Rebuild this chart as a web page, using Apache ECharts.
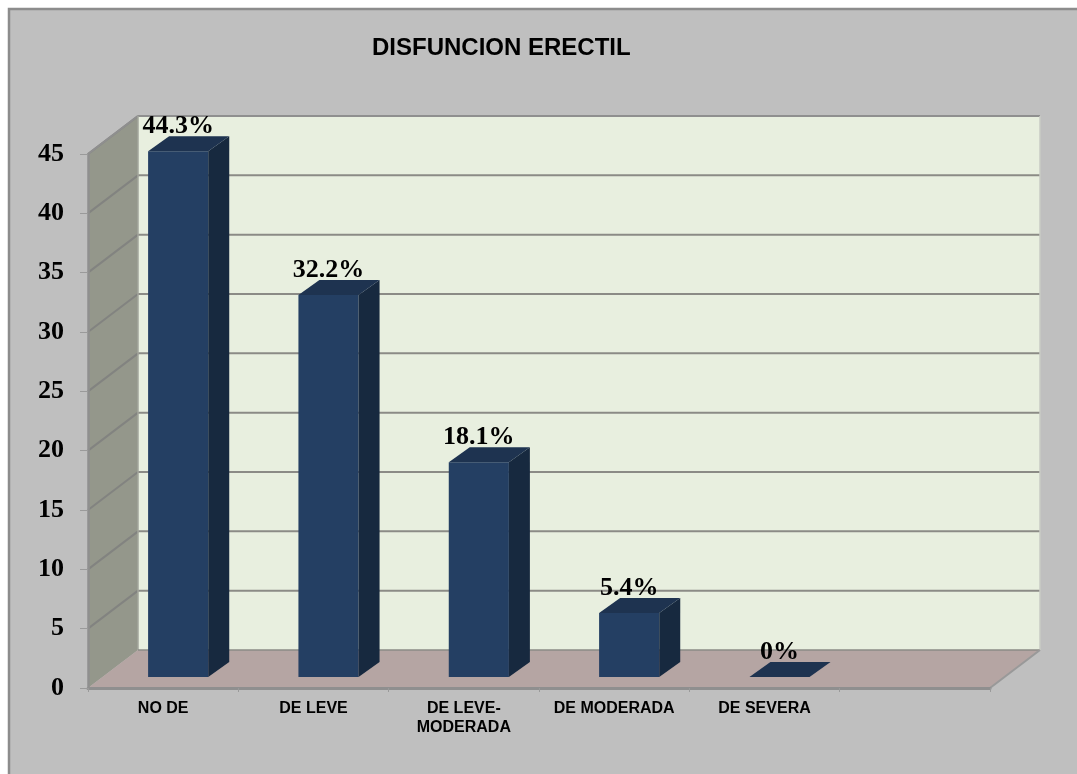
<!DOCTYPE html>
<html>
<head>
<meta charset="utf-8">
<style>html,body{margin:0;padding:0;background:#fff}#c{width:1077px;height:774px}</style>
<script src="https://cdn.jsdelivr.net/npm/echarts@6/dist/echarts.min.js"></script>
</head>
<body>
<div id="c"></div>
<script>
const titleText = 'DISFUNCION ERECTIL';
const categories = ['NO DE', 'DE LEVE', 'DE LEVE-\nMODERADA', 'DE MODERADA', 'DE SEVERA', ''];
const values = [44.3, 32.2, 18.1, 5.4, 0];
const yTicks = [0, 5, 10, 15, 20, 25, 30, 35, 40, 45];

const WALL_DX = 50, WALL_DY = -38;
const BAR_DX = 15, BAR_DY = -11, DEPTH_DX = 21, DEPTH_DY = -15;
const SERIF = '"Liberation Serif","Times New Roman",serif';
const SANS = '"Liberation Sans",Arial,sans-serif';
const GRID = '#8b8b86';

function poly(points, fill, stroke, lw) {
  return { type: 'polygon', shape: { points }, style: { fill, stroke: stroke || null, lineWidth: lw || 0 } };
}
function seg(a, b, color, w) {
  return { type: 'line', shape: { x1: a[0], y1: a[1], x2: b[0], y2: b[1] }, style: { stroke: color, lineWidth: w, fill: null } };
}

function renderWalls(params, api) {
  const g = params.coordSys;
  const L = g.x, R = g.x + g.width, T = g.y, B = g.y + g.height;
  const dx = WALL_DX, dy = WALL_DY;
  const ch = [
    poly([[L + dx, T + dy], [R + dx, T + dy], [R + dx, B + dy], [L + dx, B + dy]], '#e8efdf'),
    poly([[L, T], [L + dx, T + dy], [L + dx, B + dy], [L, B]], '#94978b'),
    poly([[L, B], [L + dx, B + dy], [R + dx, B + dy], [R, B]], '#b5a5a3')
  ];
  yTicks.forEach(function (v) {
    if (v === 0) return;
    const y = api.coord([0, v])[1];
    ch.push(seg([L, y], [L + dx, y + dy], '#828380', 2));
    ch.push(seg([L + dx, y + dy], [R + dx, y + dy], GRID, 2));
  });
  ch.push(seg([L, T], [L + dx, T + dy], '#8f8f8f', 2));
  ch.push(seg([L + dx, T + dy], [R + dx, T + dy], '#8f8f8f', 2));
  ch.push(seg([L + dx, T + dy], [L + dx, B + dy], '#a3a69c', 1.5));
  ch.push(seg([L + dx, B + dy], [R + dx, B + dy], GRID, 1.5));
  ch.push(seg([R + dx, T + dy], [R + dx, B + dy], '#c9cbc4', 1.5));
  ch.push(seg([R, B], [R + dx, B + dy], '#999999', 2));
  return { type: 'group', children: ch };
}

function renderBar(params, api) {
  const p = api.coord([api.value(0), api.value(1)]);
  const base = api.coord([api.value(0), 0]);
  const w = api.size([1, 0])[0] * 0.4;
  const x0 = p[0] + BAR_DX - w / 2, x1 = x0 + w;
  const yt = p[1] + BAR_DY, yb = base[1] + BAR_DY;
  const dx = DEPTH_DX, dy = DEPTH_DY;
  const ch = [];
  if (yb - yt > 0.5) {
    ch.push(poly([[x0, yt], [x1, yt], [x1, yb], [x0, yb]], '#243f63'));
    ch.push(poly([[x1, yt], [x1 + dx, yt + dy], [x1 + dx, yb + dy], [x1, yb]], '#17293f'));
  }
  ch.push(poly([[x0, yt], [x0 + dx, yt + dy], [x1 + dx, yt + dy], [x1, yt]], '#1e3350'));
  ch.push({
    type: 'text',
    style: {
      text: api.value(1) + '%', x: p[0] + BAR_DX, y: yt + dy + 3,
      align: 'center', verticalAlign: 'bottom',
      font: 'bold 26px ' + SERIF, fill: '#000'
    }
  });
  return { type: 'group', children: ch };
}

const chart = echarts.init(document.getElementById('c'), null, { renderer: 'canvas' });
chart.setOption({
  animation: false,
  backgroundColor: '#ffffff',
  title: {
    text: titleText, left: 367, top: 31,
    textStyle: { fontFamily: SANS, fontWeight: 'bold', fontSize: 24, color: '#000' }
  },
  graphic: [{
    type: 'rect', z: -10, silent: true,
    shape: { x: 9, y: 9, width: 1100, height: 800 },
    style: { fill: '#bfbfbf', stroke: '#8c8c8c', lineWidth: 2.5 }
  }],
  grid: { left: 88, right: 87, top: 154, bottom: 86 },
  xAxis: {
    type: 'category', data: categories, z: 5,
    axisLine: { show: true, lineStyle: { color: '#8f8f8f', width: 3 } },
    axisTick: { show: true, length: 4, interval: 0, lineStyle: { color: '#9a9a9a', width: 1 } },
    axisLabel: {
      interval: 0, margin: 11, color: '#000', lineHeight: 19,
      fontFamily: SANS, fontWeight: 'bold', fontSize: 16
    }
  },
  yAxis: {
    type: 'value', min: 0, max: 45, interval: 5, z: 5,
    axisLine: { show: true, lineStyle: { color: '#8f8f8f', width: 2.5 } },
    axisTick: { show: true, length: 8, lineStyle: { color: '#9a9a9a', width: 1 } },
    splitLine: { show: false },
    axisLabel: {
      margin: 24, color: '#000', padding: [8, 0, 0, 0],
      fontFamily: SERIF, fontWeight: 'bold', fontSize: 26
    }
  },
  series: [
    {
      type: 'custom', name: 'walls', coordinateSystem: 'cartesian2d', z: 1, silent: true,
      renderItem: renderWalls, data: [[0, 0]], encode: { x: 0, y: 1 }, clip: false
    },
    {
      type: 'custom', name: 'DISFUNCION ERECTIL', coordinateSystem: 'cartesian2d', z: 6,
      renderItem: renderBar,
      data: values.map(function (v, i) { return [i, v]; }),
      encode: { x: 0, y: 1 }, clip: false
    }
  ]
});
</script>
</body>
</html>
